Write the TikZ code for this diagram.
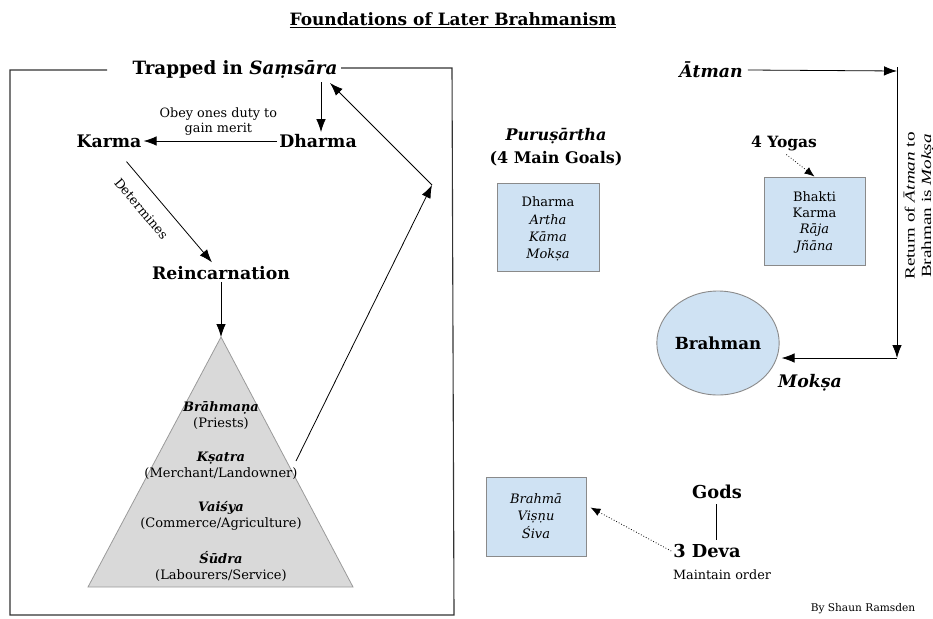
\documentclass[tikz,border=0pt]{standalone}
\usepackage{fontspec}
\setmainfont{DejaVu Serif}
\newfontfamily\tms{Liberation Serif}
\usetikzlibrary{arrows.meta,calc,shapes.geometric}
\definecolor{boxblue}{HTML}{CFE2F3}
\definecolor{boxedge}{HTML}{8A8A8A}
\definecolor{trifill}{HTML}{D9D9D9}
\definecolor{triedge}{HTML}{9A9A9A}
\definecolor{framec}{HTML}{333333}
\tikzset{
  hd/.style={font=\fontsize{17.3}{22}\selectfont\bfseries, inner sep=2pt},
  sm/.style={font=\fontsize{12.8}{15}\selectfont, inner sep=1pt, align=center},
  tri/.style={font=\fontsize{13}{16}\selectfont, inner sep=0pt, align=center},
  bluebox/.style={draw=boxedge, fill=boxblue, line width=0.9pt, inner sep=0pt},
  boxtext/.style={align=center, font=\fontsize{13}{17.3}\selectfont, inner sep=0pt},
  arr/.style={-{Latex[length=13pt,width=9.5pt]}, line width=0.8pt},
  dotarr/.style={-{Latex[length=10pt,width=8pt]}, line width=0.8pt, dotted},
  frame/.style={framec, line width=1.1pt},
}
\begin{document}
\begin{tikzpicture}[x=1pt,y=-1pt]
\useasboundingbox (0,0) rectangle (933,618);
% title
\node[font=\fontsize{17}{20}\selectfont\bfseries, inner sep=0pt] (title) at (453,20) {\underline{Foundations of Later Brahmanism}};
% left cycle
\node[hd, font=\fontsize{18.3}{22}\selectfont\bfseries] (trap) at (235,69) {Trapped in \textit{Saṃsāra}};
\coordinate (fl) at (107,70);
\coordinate (fr) at (341,68);
\draw[frame] (fl) -- (10,70) -- (10,615) -- (454,615) -- (452,68) -- (fr);
\node[hd] (dharma) at (318,141) {Dharma};
\node[hd] (karma) at (109,141) {Karma};
\node[hd] (reinc) at (221,273) {Reincarnation};
\coordinate (td) at (321,82);
\draw[arr] (td) -- (td |- dharma.north);
\draw[arr] (dharma.west) -- (karma.east) node[sm, midway, above=4pt, xshift=8pt] (obey) {Obey ones duty to\\gain merit};
\draw[arr, shorten <=27pt, shorten >=14pt] (karma.center) -- (reinc.center)
  node[sm, pos=0.42, sloped, below=13pt] (det) {Determines};
% triangle
\coordinate (apex) at (221,337);
\coordinate (bl) at (88,587);
\coordinate (br) at (353,587);
\draw[fill=trifill, draw=triedge, line width=0.8pt] (apex) -- (br) -- (bl) -- cycle;
\draw[arr] (reinc.south) -- (apex);
\node[tri] (c1) at (221,416) {\textbf{\textit{Brāhmaṇa}}\\(Priests)};
\node[tri] (c2) at (221,466) {\textbf{\textit{Kṣatra}}\\(Merchant/Landowner)};
\node[tri] (c3) at (221,516) {\textbf{\textit{Vaiśya}}\\(Commerce/Agriculture)};
\node[tri] (c4) at (221,566) {\textbf{\textit{Śūdra}}\\(Labourers/Service)};
\coordinate (kout) at (296,461);
\coordinate (turn) at (432,185);
\coordinate (trapin) at (330,83);
\draw[arr] (kout) -- (turn);
\draw[arr] (turn) -- (trapin);
% purushartha
\node[hd, align=center, font=\fontsize{16}{23}\selectfont\bfseries] (puru) at (556,147) {\textit{Puruṣārtha}\\(4 Main Goals)};
\node[bluebox, minimum width=102pt, minimum height=88pt] (goals) at (548,227) {};
\node[boxtext] (goalstext) at (548,229) {Dharma\\\textit{Artha}\\\textit{Kāma}\\\textit{Mokṣa}};
% atman / brahman
\node[hd] (atman) at (711,70) {\textit{Ātman}};
\coordinate (c1r) at (897,71);
\coordinate (c2r) at (897,358);
\node[draw=boxedge, fill=boxblue, line width=0.9pt, ellipse, minimum width=122pt, minimum height=104pt, inner sep=0pt, font=\fontsize{16.7}{19}\selectfont\bfseries] (brahman) at (718,343) {Brahman};
\draw[arr] (atman.east) ++(3,0) -- (c1r);
\draw[arr] (897,67) -- (c2r);
\draw[arr, shorten >=2pt] (c2r) -- (brahman.east |- c2r);
\node[font=\tms\fontsize{14}{16.5}\selectfont, rotate=90, xscale=1.37, align=center, inner sep=0pt] (ret) at (918.5,206) {Return of \textit{Ātman} to\\Brahman is \textit{Mokṣa}};
\node[hd] (moksa) at (810,383) {\textit{Mokṣa}};
\node[hd, font=\fontsize{15.5}{19}\selectfont\bfseries] (yogas) at (784,143) {4 Yogas};
\node[bluebox, minimum width=101pt, minimum height=88pt] (yogabox) at (814.5,221) {};
\node[boxtext, font=\fontsize{13}{16.3}\selectfont] (yogatext) at (814.5,222) {Bhakti\\Karma\\\textit{Rāja}\\\textit{Jñāna}};
\draw[dotarr, shorten <=3pt] (yogas.south) -- (yogabox.north);
% gods
\node[bluebox, minimum width=100pt, minimum height=79pt] (godbox) at (536,516.5) {};
\node[boxtext] (godtext) at (536,516) {\textit{Brahmā}\\\textit{Viṣṇu}\\\textit{Śiva}};
\node[hd, font=\fontsize{17.8}{22}\selectfont\bfseries] (gods) at (717,492) {Gods};
\node[hd, font=\fontsize{17.8}{22}\selectfont\bfseries] (deva) at (707,551) {3 Deva};
\draw[line width=0.8pt] ([xshift=-1pt,yshift=-3pt]gods.south) -- ([xshift=-1pt,yshift=2pt]gods.south |- deva.north);
\node[sm] (maint) at (722,575) {Maintain order};
\draw[dotarr] (deva.west) -- ([xshift=4pt,yshift=9pt]godbox.east);
\node[sm, font=\fontsize{10.6}{12}\selectfont] (by) at (863,609) {By Shaun Ramsden};
\end{tikzpicture}
\end{document}
